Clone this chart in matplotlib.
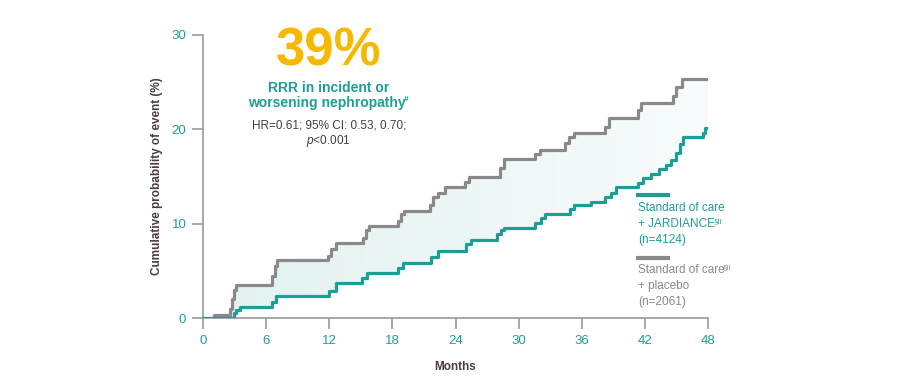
import numpy as np
import matplotlib
matplotlib.use("Agg")
import matplotlib.pyplot as plt

plt.rcParams["font.family"] = ["Liberation Sans", "DejaVu Sans"]
plt.rcParams["mathtext.fontset"] = "custom"
plt.rcParams["mathtext.rm"] = "Liberation Sans"
plt.rcParams["mathtext.it"] = "Liberation Sans:italic"
plt.rcParams["mathtext.bf"] = "Liberation Sans:bold"

# Kaplan-Meier style step data (months, cumulative %)
placebo_t = [0, 1.05, 2.6, 2.75, 2.95, 3.1, 6.55, 6.8, 7.0, 11.9, 12.2, 12.6,
             15.2, 15.5, 15.8, 18.5, 18.8, 19.1, 21.6, 21.9, 22.3, 23.0,
             24.9, 25.3, 28.2, 28.6, 31.6, 32.0, 34.4, 34.8, 35.3, 38.2, 38.6,
             41.3, 41.6, 44.7, 45.0, 45.5, 48]
placebo_y = [0, 0.3, 1.0, 2.0, 3.0, 3.5, 4.5, 5.5, 6.1, 6.6, 7.3, 7.9,
             8.5, 9.3, 9.8, 10.3, 11.0, 11.3, 12.0, 12.8, 13.3, 13.9,
             14.4, 15.0, 15.9, 16.9, 17.4, 17.8, 18.5, 19.2, 19.6, 20.3, 21.2,
             22.0, 22.8, 23.5, 24.5, 25.3, 25.3]
jard_t = [0, 2.8, 2.95, 3.1, 3.5, 6.6, 6.9, 12.0, 12.6, 15.1, 15.6, 18.5, 19.0,
          21.7, 22.3, 25.0, 25.5, 27.9, 28.3, 28.6, 31.6, 32.1, 32.5, 34.9, 35.3,
          36.9, 38.2, 38.8, 39.3, 41.3, 41.8, 42.6, 43.3, 44.0, 44.5, 45.0,
          45.3, 45.6, 47.5, 47.7, 48]
jard_y = [0, 0, 0.5, 0.85, 1.2, 1.7, 2.3, 2.9, 3.7, 4.2, 4.8, 5.3, 5.8,
          6.5, 7.1, 7.8, 8.3, 8.9, 9.3, 9.5, 10.1, 10.6, 11.0, 11.6, 12.0,
          12.3, 12.8, 13.3, 13.9, 14.3, 14.8, 15.3, 15.8, 16.2, 16.8, 17.5,
          18.4, 19.2, 19.6, 20.1, 20.1]
x_ticks = [0, 6, 12, 18, 24, 30, 36, 42, 48]
y_ticks = [0, 10, 20, 30]

TEAL = "#1c9e95"
GREY = "#89898b"
YELLOW = "#f7b800"
DARK = "#4a3c3c"
AXC = "#9a9a9a"

fig = plt.figure(figsize=(9.04, 3.88), dpi=100)
ax = fig.add_axes([0.2246, 0.1804, 0.5586, 0.7294])

# shaded gap between curves with a fading gradient
grid = np.union1d(placebo_t, jard_t)
pg = np.array(placebo_y)[np.searchsorted(placebo_t, grid, side="right") - 1]
jg = np.array(jard_y)[np.searchsorted(jard_t, grid, side="right") - 1]
poly = ax.fill_between(grid, jg, pg, step="post", color="none", lw=0)
c0 = np.array(matplotlib.colors.to_rgb("#e2f1f1"))
c1 = np.array(matplotlib.colors.to_rgb("#f8fbfb"))
g = np.linspace(0, 1, 256)[None, :, None]
img = c0 * (1 - g) + c1 * g
im = ax.imshow(img, extent=[0, 48, 0, 30], aspect="auto", zorder=1, origin="lower")
im.set_clip_path(poly.get_paths()[0], transform=ax.transData)

ax.step(placebo_t, placebo_y, where="post", color=GREY, lw=2.3, zorder=3)
ax.step(jard_t, jard_y, where="post", color=TEAL, lw=2.3, zorder=4)

ax.set_xlim(0, 48)
ax.set_ylim(0, 30)
ax.set_xticks(x_ticks)
ax.set_yticks(y_ticks)
for s in ["top", "right"]:
    ax.spines[s].set_visible(False)
for s in ["left", "bottom"]:
    ax.spines[s].set_color(AXC)
    ax.spines[s].set_linewidth(1.2)
ax.tick_params(axis="both", colors=AXC, labelcolor=TEAL, labelsize=9.5,
               length=8, width=1.2, direction="out", pad=4)
ax.set_ylabel("Cumulative probability of event (%)", fontsize=8.5,
              fontweight="bold", color=DARK, labelpad=6)
ax.set_xlabel("Months", fontsize=8.5, fontweight="bold", color=DARK, labelpad=10)


def sup(t, s, color, size=5.5, weight="normal"):
    # small superscript attached to the right edge of a text
    ax.annotate(s, xy=(1, 0.72), xycoords=t, xytext=(-1.2, 0),
                textcoords="offset points", fontsize=size, color=color,
                fontweight=weight, ha="left", va="center")


# headline annotation
cx = 11.8
ax.text(cx + 0.15, 28.2, "39%", fontsize=38, fontweight="bold", color=YELLOW,
        ha="center", va="center")
ax.text(cx + 0.15, 24.4, "RRR in incident or", fontsize=10, fontweight="bold",
        color=TEAL, ha="center", va="center")
t = ax.text(cx, 22.8, "worsening nephropathy", fontsize=10, fontweight="bold",
            color=TEAL, ha="center", va="center")
sup(t, "#", TEAL, 6, "bold")
ax.text(cx + 0.15, 20.36, "HR=0.61; 95% CI: 0.53, 0.70;", fontsize=8.5,
        color=DARK, ha="center", va="center")
ax.text(cx + 0.15, 18.77, "$\\it{p}$<0.001", fontsize=8.5, color=DARK,
        ha="center", va="center")

# legend
lx = 41.35
ax.plot([lx, lx + 2.85], [13.04, 13.04], color=TEAL, lw=3, clip_on=False)
for yy, s in zip([11.66, 9.97, 8.27], ["Standard of care", "+ JARDIANCE", "(n=4124)"]):
    t = ax.text(lx, yy, s, fontsize=8.5, color=TEAL, ha="left", va="center")
    if s == "+ JARDIANCE":
        sup(t, "§II", TEAL)
ax.plot([lx, lx + 2.85], [6.36, 6.36], color=GREY, lw=3, clip_on=False)
for yy, s in zip([5.09, 3.39, 1.70], ["Standard of care", "+ placebo", "(n=2061)"]):
    t = ax.text(lx, yy, s, fontsize=8.5, color=GREY, ha="left", va="center")
    if s == "Standard of care":
        sup(t, "§II", GREY)

fig.savefig("out.png", dpi=100)
